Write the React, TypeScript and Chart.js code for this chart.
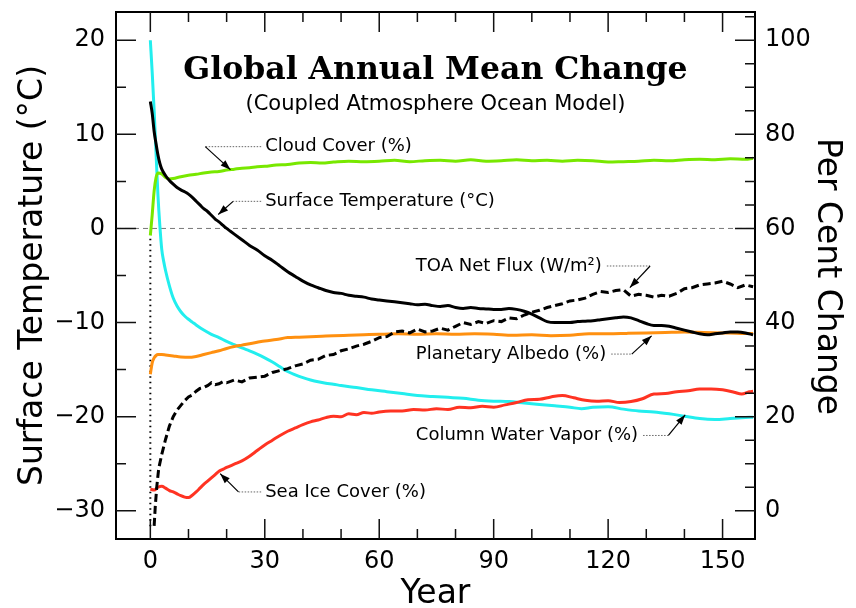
import React, { useEffect, useRef } from "react";
import { Chart, registerables } from "chart.js";

Chart.register(...registerables);

// ---------------- data ----------------
const tempYears = [0, 0.5, 1, 1.5, 2, 2.5, 3, 4, 5, 6, 7, 8, 9, 10, 11, 12, 13, 14, 15, 16, 17, 18, 19, 20, 21, 22, 24, 26, 28, 30, 32, 34, 36, 38, 40, 42, 44, 46, 48, 50, 52, 54, 56, 58, 60, 62, 64, 66, 68, 70, 72, 74, 76, 78, 80, 82, 84, 86, 88, 90, 92, 94, 96, 98, 100, 102, 104, 106, 108, 110, 112, 114, 116, 118, 120, 122, 124, 126, 128, 130, 132, 134, 136, 138, 140, 142, 144, 146, 148, 150, 152, 154, 156, 158];
const tempValues = [13.5, 12.2, 10.3, 9.0, 7.8, 6.9, 6.3, 5.6, 5.1, 4.7, 4.35, 4.1, 3.9, 3.65, 3.3, 2.9, 2.5, 2.1, 1.8, 1.4, 1.0, 0.7, 0.35, 0.0, -0.3, -0.6, -1.2, -1.8, -2.3, -2.9, -3.4, -4.0, -4.6, -5.1, -5.6, -6.0, -6.3, -6.6, -6.8, -6.9, -7.1, -7.2, -7.3, -7.5, -7.6, -7.7, -7.8, -7.9, -8.0, -8.1, -8.05, -8.2, -8.3, -8.2, -8.4, -8.5, -8.4, -8.5, -8.55, -8.6, -8.6, -8.5, -8.6, -8.8, -9.1, -9.5, -9.9, -10.0, -10.0, -10.0, -9.9, -9.85, -9.8, -9.7, -9.6, -9.5, -9.4, -9.5, -9.8, -10.1, -10.3, -10.3, -10.4, -10.6, -10.8, -11.0, -11.2, -11.3, -11.2, -11.1, -11.0, -11.0, -11.1, -11.3];

const fluxYears = [1, 1.3, 1.7, 2.2, 3, 4, 5, 6, 7, 8, 9, 10, 11, 12, 13, 14, 15, 16, 17, 18, 19, 20, 22, 24, 26, 28, 30, 32, 34, 36, 38, 40, 42, 44, 46, 48, 50, 52, 54, 56, 58, 60, 62, 64, 66, 68, 70, 72, 74, 76, 78, 80, 82, 84, 86, 88, 90, 92, 94, 96, 98, 100, 102, 104, 106, 108, 110, 112, 114, 116, 118, 120, 122, 124, 126, 128, 130, 132, 134, 136, 138, 140, 142, 144, 146, 148, 150, 152, 154, 156, 158];
const fluxValues = [-31.6, -29.5, -27.4, -25.5, -24.0, -22.4, -21.0, -20.0, -19.3, -18.8, -18.3, -17.9, -17.7, -17.3, -17.0, -16.9, -16.7, -16.4, -16.6, -16.5, -16.3, -16.4, -16.1, -16.3, -15.9, -15.8, -15.7, -15.3, -15.1, -14.9, -14.6, -14.4, -14.0, -13.9, -13.5, -13.4, -13.0, -12.8, -12.5, -12.3, -12.0, -11.6, -11.5, -11.0, -10.9, -11.1, -10.7, -11.0, -10.9, -10.6, -10.8, -10.4, -10.0, -10.2, -9.9, -10.1, -9.8, -9.9, -9.5, -9.6, -9.2, -8.9, -8.7, -8.4, -8.2, -8.0, -7.7, -7.6, -7.4, -7.0, -6.7, -6.8, -6.6, -6.5, -7.2, -7.0, -7.1, -7.3, -7.1, -7.2, -6.9, -6.4, -6.3, -6.0, -5.9, -5.8, -5.6, -5.9, -6.3, -6.0, -6.2];

const cloudYears = [0, 0.5, 1, 1.5, 2, 3, 4, 5, 6, 8, 10, 12, 14, 16, 18, 20, 22, 24, 26, 28, 30, 33, 36, 39, 42, 45, 48, 52, 56, 60, 64, 68, 72, 76, 80, 84, 88, 92, 96, 100, 104, 108, 112, 116, 120, 124, 128, 132, 136, 140, 144, 148, 152, 156, 158];
const cloudValues = [58.5, 63, 68, 70.8, 71.8, 71.6, 70.8, 70.5, 70.6, 71.0, 71.3, 71.5, 71.8, 72.0, 72.1, 72.4, 72.6, 72.8, 72.9, 73.1, 73.2, 73.5, 73.6, 73.9, 74.0, 73.9, 74.1, 74.3, 74.2, 74.3, 74.5, 74.2, 74.4, 74.5, 74.3, 74.6, 74.3, 74.4, 74.6, 74.4, 74.5, 74.3, 74.5, 74.4, 74.1, 74.2, 74.3, 74.5, 74.4, 74.6, 74.7, 74.6, 74.8, 74.7, 74.9];

const vaporYears = [0, 0.5, 1, 1.5, 2, 2.5, 3, 3.5, 4, 5, 6, 7, 8, 9, 10, 11, 12, 14, 16, 18, 20, 22, 24, 26, 28, 30, 32, 34, 36, 38, 40, 42, 44, 46, 48, 50, 54, 58, 62, 66, 70, 74, 78, 82, 86, 90, 94, 98, 102, 106, 110, 113, 116, 120, 124, 128, 132, 136, 140, 144, 148, 152, 156, 158];
const vaporValues = [100, 93, 85, 76, 67, 60.5, 55.5, 53, 51, 47.8, 45.2, 43.5, 42.3, 41.4, 40.7, 40.1, 39.5, 38.4, 37.5, 36.8, 36.0, 35.3, 34.6, 34.0, 33.3, 32.5, 31.6, 30.6, 29.6, 28.9, 28.3, 27.8, 27.4, 27.1, 26.9, 26.6, 26.2, 25.7, 25.3, 24.9, 24.5, 24.3, 24.1, 23.9, 23.5, 23.3, 23.2, 22.9, 22.6, 22.3, 22.0, 21.7, 22.0, 22.1, 21.6, 21.2, 21.0, 20.6, 20.1, 19.6, 19.4, 19.6, 19.8, 19.9];

const albedoYears = [0, 0.5, 1, 1.5, 2, 3, 4, 6, 8, 10, 12, 14, 16, 18, 20, 22, 24, 26, 28, 30, 33, 36, 39, 42, 45, 48, 52, 56, 60, 65, 70, 75, 80, 85, 90, 95, 100, 105, 110, 115, 120, 125, 130, 135, 140, 145, 150, 155, 158];
const albedoValues = [29, 31.5, 32.5, 33, 33.2, 33.2, 33.1, 32.9, 32.7, 32.6, 32.8, 33.2, 33.6, 34.0, 34.5, 34.9, 35.2, 35.5, 35.8, 36.1, 36.4, 36.8, 36.9, 37.0, 37.1, 37.2, 37.3, 37.4, 37.5, 37.6, 37.5, 37.6, 37.5, 37.6, 37.5, 37.3, 37.4, 37.2, 37.3, 37.6, 37.6, 37.7, 37.8, 37.9, 38.0, 37.9, 37.8, 37.7, 37.7];

const iceYears = [0, 1, 2, 3, 4, 5, 6, 7, 8, 9, 10, 11, 12, 13, 14, 15, 16, 17, 18, 19, 20, 22, 24, 26, 28, 30, 32, 34, 36, 38, 40, 42, 44, 46, 48, 50, 52, 54, 56, 58, 60, 63, 66, 69, 72, 75, 78, 81, 84, 87, 90, 93, 96, 99, 102, 105, 108, 111, 114, 117, 120, 123, 126, 129, 132, 135, 138, 141, 144, 147, 150, 153, 155, 157, 158];
const iceValues = [4.6, 4.4, 5.0, 5.2, 4.8, 4.3, 4.0, 3.6, 3.2, 2.9, 2.8, 3.3, 4.0, 4.8, 5.6, 6.3, 7.0, 7.7, 8.4, 8.8, 9.2, 9.9, 10.6, 11.6, 12.8, 14.0, 15.0, 16.0, 16.9, 17.6, 18.3, 18.9, 19.3, 19.8, 20.1, 20.0, 20.6, 20.4, 20.9, 20.7, 21.0, 21.2, 21.2, 21.5, 21.4, 21.7, 21.5, 22.0, 21.9, 22.2, 22.0, 22.5, 23.0, 23.6, 23.7, 24.2, 24.5, 24.0, 23.5, 23.3, 23.4, 23.0, 23.2, 23.8, 24.8, 24.9, 25.3, 25.5, 25.9, 25.9, 25.7, 25.2, 24.8, 25.3, 25.4];

// initial-step dotted line at year 0 and the zero reference line
const stepYears = [0, 0];
const stepValues = [-0.5, -32];
const zeroYears = [-9, 158.5];
const zeroValues = [0, 0];

// axes
const xRange = [-9, 158.5];
const leftRange = [-33, 23];
const rightRange = [-6, 106];
const xTickLabels = [0, 30, 60, 90, 120, 150];
const leftTickLabels = [20, 10, 0, -10, -20, -30];
const rightTickLabels = [0, 20, 40, 60, 80, 100];
const xTickMarks = [0, 10, 20, 30, 40, 50, 60, 70, 80, 90, 100, 110, 120, 130, 140, 150];
const leftTickMarks = [20, 15, 10, 5, 0, -5, -10, -15, -20, -25, -30];
const rightTickMarks = [0, 5, 10, 15, 20, 25, 30, 35, 40, 45, 50, 55, 60, 65, 70, 75, 80, 85, 90, 95, 100, 105];

const TITLE = "Global Annual Mean Change";
const SUBTITLE = "(Coupled Atmosphere Ocean Model)";
const X_TITLE = "Year";
const Y_TITLE = "Surface Temperature (°C)";
const Y1_TITLE = "Per Cent Change";

// labels with leader + arrow (positions in year / left-axis units)
const annotations = [
  { text: "Cloud Cover (%)", tx: 30.1, ty: 8.69, side: "left", bx: 14.4, ax: 21.0, ay: 6.25 },
  { text: "Surface Temperature (°C)", tx: 30.1, ty: 2.88, side: "left", bx: 21.7, ax: 17.8, ay: 1.48 },
  { text: "TOA Net Flux (W/m²)", tx: 69.6, ty: -3.99, side: "right", bx: 131.0, ax: 125.7, ay: -6.28 },
  { text: "Planetary Albedo (%)", tx: 69.6, ty: -13.35, side: "right", bx: 126.2, ax: 131.4, ay: -11.41 },
  { text: "Column Water Vapor (%)", tx: 69.6, ty: -22.0, side: "right", bx: 135.8, ax: 140.2, ay: -19.81 },
  { text: "Sea Ice Cover (%)", tx: 30.1, ty: -28.0, side: "left", bx: 23.1, ax: 18.3, ay: -26.06 },
];

const SANS = "'DejaVu Sans', sans-serif";

function pts(xs: number[], ys: number[]) {
  const n = Math.min(xs.length, ys.length);
  const out: { x: number; y: number }[] = [];
  for (let i = 0; i < n; i++) out.push({ x: xs[i], y: ys[i] });
  return out;
}

function fmt(v: number) {
  return v < 0 ? "\u2212" + Math.abs(v) : String(v);
}

const overlayPlugin = {
  id: "overlay",
  afterDatasetsDraw(chart: any) {
    const { ctx, chartArea: a, scales } = chart;
    const xs = scales.x, ys = scales.y, y1s = scales.y1;
    ctx.save();
    // frame
    ctx.strokeStyle = "#000";
    ctx.lineWidth = 2;
    ctx.strokeRect(a.left, a.top, a.right - a.left, a.bottom - a.top);
    // inward ticks
    ctx.lineWidth = 1.5;
    ctx.strokeStyle = "#111";
    ctx.beginPath();
    xTickMarks.forEach((v) => {
      const px = xs.getPixelForValue(v);
      const len = v % 30 === 0 ? 20 : 10;
      ctx.moveTo(px, a.bottom);
      ctx.lineTo(px, a.bottom - len);
      ctx.moveTo(px, a.top);
      ctx.lineTo(px, a.top + len);
    });
    leftTickMarks.forEach((v) => {
      const py = ys.getPixelForValue(v);
      const len = v % 10 === 0 ? 20 : 10;
      ctx.moveTo(a.left, py);
      ctx.lineTo(a.left + len, py);
    });
    rightTickMarks.forEach((v) => {
      const py = y1s.getPixelForValue(v);
      const len = v % 20 === 0 ? 20 : 10;
      ctx.moveTo(a.right, py);
      ctx.lineTo(a.right - len, py);
    });
    ctx.stroke();

    // annotations
    ctx.font = "18px " + SANS;
    ctx.textAlign = "left";
    ctx.textBaseline = "middle";
    ctx.fillStyle = "#000";
    annotations.forEach((an) => {
      const tx = xs.getPixelForValue(an.tx);
      const ty = ys.getPixelForValue(an.ty);
      ctx.fillText(an.text, tx, ty);
      const w = ctx.measureText(an.text).width;
      const bx = xs.getPixelForValue(an.bx);
      const sx = an.side === "left" ? tx - 4 : tx + w + 5;
      ctx.setLineDash([1.5, 1.5]);
      ctx.strokeStyle = "#666";
      ctx.lineWidth = 1;
      ctx.beginPath();
      ctx.moveTo(sx, ty);
      ctx.lineTo(bx, ty);
      ctx.stroke();
      ctx.setLineDash([]);
      const cx = xs.getPixelForValue(an.ax);
      const cy = ys.getPixelForValue(an.ay);
      ctx.strokeStyle = "#000";
      ctx.lineWidth = 1.2;
      ctx.beginPath();
      ctx.moveTo(bx, ty);
      ctx.lineTo(cx, cy);
      ctx.stroke();
      const ang = Math.atan2(cy - ty, cx - bx);
      const L = 10, H = 3.5;
      ctx.beginPath();
      ctx.moveTo(cx, cy);
      ctx.lineTo(cx - L * Math.cos(ang) + H * Math.sin(ang), cy - L * Math.sin(ang) - H * Math.cos(ang));
      ctx.lineTo(cx - L * Math.cos(ang) - H * Math.sin(ang), cy - L * Math.sin(ang) + H * Math.cos(ang));
      ctx.closePath();
      ctx.fill();
    });
    ctx.restore();
  },
  afterDraw(chart: any) {
    const { ctx, chartArea: a } = chart;
    const cx = (a.left + a.right) / 2;
    const cy = (a.top + a.bottom) / 2;
    ctx.save();
    ctx.fillStyle = "#000";
    ctx.textAlign = "center";
    ctx.textBaseline = "alphabetic";
    ctx.font = "bold 31.5px 'DejaVu Serif', serif";
    ctx.fillText(TITLE, cx, a.top + 67);
    ctx.font = "21px " + SANS;
    ctx.fillText(SUBTITLE, cx, a.top + 98);
    ctx.font = "33px " + SANS;
    ctx.fillText(X_TITLE, cx, 603);
    ctx.save();
    ctx.translate(42, cy);
    ctx.rotate(-Math.PI / 2);
    ctx.fillText(Y_TITLE, 0, 0);
    ctx.restore();
    ctx.save();
    ctx.translate(818, cy + 1);
    ctx.rotate(Math.PI / 2);
    ctx.fillText(Y1_TITLE, 0, 0);
    ctx.restore();
    ctx.restore();
  },
};

export default function App() {
  const ref = useRef<HTMLCanvasElement | null>(null);

  useEffect(() => {
    if (!ref.current) return;
    const line = (data: any, color: string, axis: string, extra: any = {}) => ({
      data,
      yAxisID: axis,
      borderColor: color,
      backgroundColor: color,
      borderWidth: 3,
      pointRadius: 0,
      fill: false,
      cubicInterpolationMode: "monotone",
      ...extra,
    });
    const chart = new Chart(ref.current, {
      type: "line",
      data: {
        datasets: [
          line(pts(tempYears, tempValues), "#000000", "y", { label: "Surface Temperature" }),
          line(pts(fluxYears, fluxValues), "#000000", "y", { label: "TOA Net Flux", borderWidth: 3, borderDash: [8, 4], cubicInterpolationMode: "default", tension: 0 }),
          line(pts(iceYears, iceValues), "#ff3322", "y1", { label: "Sea Ice Cover" }),
          line(pts(albedoYears, albedoValues), "#ff9010", "y1", { label: "Planetary Albedo" }),
          line(pts(cloudYears, cloudValues), "#78e800", "y1", { label: "Cloud Cover" }),
          line(pts(vaporYears, vaporValues), "#22eeee", "y1", { label: "Column Water Vapor" }),
          line(pts(stepYears, stepValues), "#000000", "y", { label: "step", borderWidth: 2, borderDash: [1.5, 4], cubicInterpolationMode: "default", tension: 0 }),
          line(pts(zeroYears, zeroValues), "#777777", "y", { label: "zero", borderWidth: 1, borderDash: [5, 4], cubicInterpolationMode: "default", tension: 0 }),
        ],
      },
      options: {
        animation: false,
        responsive: false,
        events: [],
        layout: { padding: { top: 12, left: 0, right: 0, bottom: 0 } },
        plugins: {
          legend: { display: false },
          title: { display: false },
          tooltip: { enabled: false },
        },
        scales: {
          x: {
            type: "linear",
            position: "bottom",
            min: xRange[0],
            max: xRange[1],
            grid: { display: false, drawTicks: false },
            border: { display: false },
            ticks: {
              color: "#000",
              font: { family: SANS, size: 24 },
              padding: 8,
              autoSkip: false,
              maxRotation: 0,
              callback: (v: any) => fmt(Number(v)),
            },
            afterBuildTicks: (s: any) => {
              s.ticks = xTickLabels.map((v) => ({ value: v }));
            },
            afterFit: (s: any) => {
              s.height = 69;
              s.paddingLeft = 0;
              s.paddingRight = 0;
            },
          },
          y: {
            type: "linear",
            position: "left",
            min: leftRange[0],
            max: leftRange[1],
            grid: { display: false, drawTicks: false },
            border: { display: false },
            ticks: {
              color: "#000",
              font: { family: SANS, size: 24 },
              padding: 11,
              autoSkip: false,
              callback: (v: any) => fmt(Number(v)),
            },
            afterBuildTicks: (s: any) => {
              s.ticks = leftTickLabels.map((v) => ({ value: v }));
            },
            afterFit: (s: any) => {
              s.width = 116;
              s.paddingTop = 0;
              s.paddingBottom = 0;
            },
          },
          y1: {
            type: "linear",
            position: "right",
            min: rightRange[0],
            max: rightRange[1],
            grid: { display: false, drawTicks: false },
            border: { display: false },
            ticks: {
              color: "#000",
              font: { family: SANS, size: 24 },
              padding: 10,
              autoSkip: false,
              callback: (v: any) => fmt(Number(v)),
            },
            afterBuildTicks: (s: any) => {
              s.ticks = rightTickLabels.map((v) => ({ value: v }));
            },
            afterFit: (s: any) => {
              s.width = 101;
              s.paddingTop = 0;
              s.paddingBottom = 0;
            },
          },
        },
      },
      plugins: [overlayPlugin],
    } as any);
    return () => chart.destroy();
  }, []);

  return (
    <div style={{ position: "fixed", left: 0, top: 0, width: 856, height: 608, background: "#fff" }}>
      <canvas ref={ref} width={856} height={608} style={{ display: "block", width: 856, height: 608 }} />
    </div>
  );
}
